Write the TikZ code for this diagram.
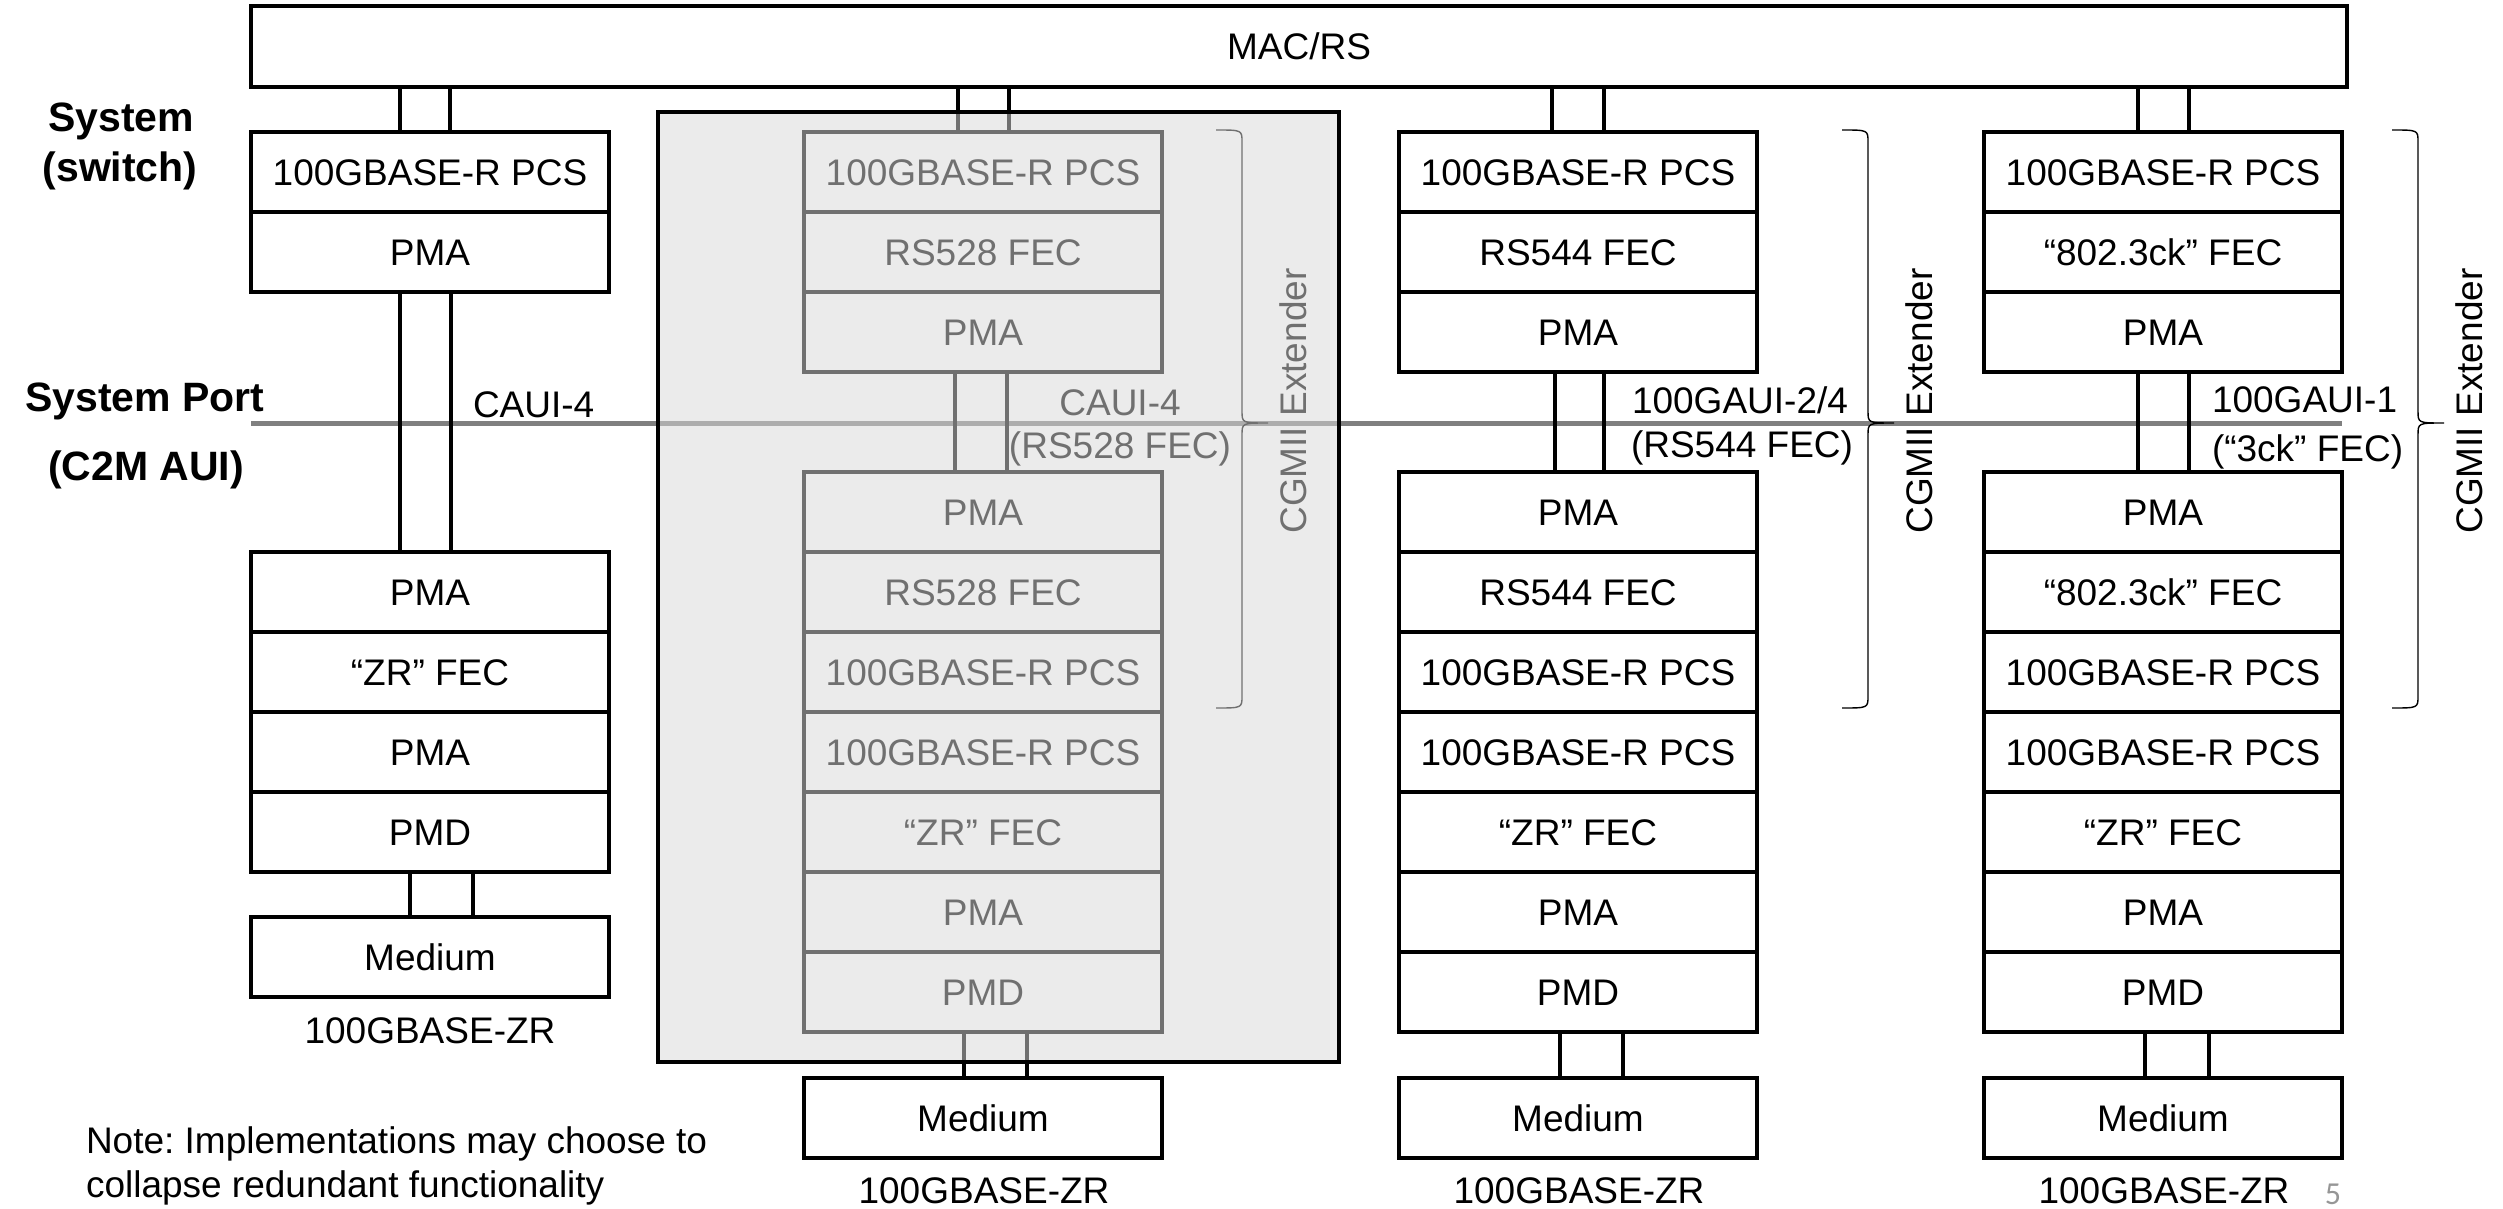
\documentclass[tikz,border=0pt]{standalone}
\usepackage{fontspec}
\setmainfont{Liberation Sans}
\newfontfamily\pgnumfont{Carlito}
\frenchspacing
\definecolor{ovl}{RGB}{216,216,216}
\definecolor{portgray}{RGB}{128,128,128}
\definecolor{pgnum}{RGB}{150,150,150}
\newcommand\cnx[3]{\draw[conn] (#1,0 |- #2.south) -- (#1,0 |- #3.north);}
\begin{document}
\begin{tikzpicture}[x=1pt,y=-1pt,
  every node/.style={font=\fontsize{37}{44}\selectfont, inner sep=0pt, outer sep=0pt},
  layer/.style={draw, line width=3.3pt, minimum width=358pt, minimum height=80pt, anchor=north west, text height=27pt, text depth=0pt},
  conn/.style={line width=3.3pt},
  lbl/.style={anchor=base},
  lbll/.style={anchor=base west},
  bold/.style={font=\fontsize{41}{48}\selectfont\bfseries, anchor=base},
  brc/.style={line width=1.4pt},
  port/.style={line width=5pt, draw=portgray},
]
\useasboundingbox (0,0) rectangle (2503,1209);

% MAC
\node[draw, line width=3.3pt, minimum width=2096pt, minimum height=81pt, anchor=north west] (mac) at (251,6) {MAC/RS};

% system port line
\coordinate (pl) at (251,423);
\coordinate (pr) at (2342,423);
\draw[port] (pl) -- (pr);

% stacks
\foreach \t [count=\i from 0] in {100GBASE-R PCS, PMA}
  \node[layer] (c1u\i) at (251,132+80*\i) {\t};
\foreach \t [count=\i from 0] in {PMA, “ZR” FEC, PMA, PMD}
  \node[layer] (c1l\i) at (251,552+80*\i) {\t};

\foreach \t [count=\i from 0] in {100GBASE-R PCS, RS528 FEC, PMA}
  \node[layer] (c2u\i) at (804,132+80*\i) {\t};
\foreach \t [count=\i from 0] in {PMA, RS528 FEC, 100GBASE-R PCS, 100GBASE-R PCS, “ZR” FEC, PMA, PMD}
  \node[layer] (c2l\i) at (804,472+80*\i) {\t};

\foreach \t [count=\i from 0] in {100GBASE-R PCS, RS544 FEC, PMA}
  \node[layer] (c3u\i) at (1399,132+80*\i) {\t};
\foreach \t [count=\i from 0] in {PMA, RS544 FEC, 100GBASE-R PCS, 100GBASE-R PCS, “ZR” FEC, PMA, PMD}
  \node[layer] (c3l\i) at (1399,472+80*\i) {\t};

\foreach \t [count=\i from 0] in {100GBASE-R PCS, “802.3ck” FEC, PMA}
  \node[layer] (c4u\i) at (1984,132+80*\i) {\t};
\foreach \t [count=\i from 0] in {PMA, “802.3ck” FEC, 100GBASE-R PCS, 100GBASE-R PCS, “ZR” FEC, PMA, PMD}
  \node[layer] (c4l\i) at (1984,472+80*\i) {\t};

% media
\node[layer] (m1) at (251,917) {Medium};
\node[layer] (m2) at (804,1078) {Medium};
\node[layer] (m3) at (1399,1078) {Medium};
\node[layer] (m4) at (1984,1078) {Medium};

% connectors
\cnx{400}{mac}{c1u0} \cnx{450}{mac}{c1u0}
\cnx{400}{c1u1}{c1l0} \cnx{451}{c1u1}{c1l0}
\cnx{410}{c1l3}{m1} \cnx{473}{c1l3}{m1}
\cnx{958}{mac}{c2u0} \cnx{1009}{mac}{c2u0}
\cnx{955}{c2u2}{c2l0} \cnx{1007}{c2u2}{c2l0}
\cnx{964}{c2l6}{m2} \cnx{1027}{c2l6}{m2}
\cnx{1552}{mac}{c3u0} \cnx{1604}{mac}{c3u0}
\cnx{1555}{c3u2}{c3l0} \cnx{1604}{c3u2}{c3l0}
\cnx{1560}{c3l6}{m3} \cnx{1623}{c3l6}{m3}
\cnx{2138}{mac}{c4u0} \cnx{2189}{mac}{c4u0}
\cnx{2138}{c4u2}{c4l0} \cnx{2189}{c4u2}{c4l0}
\cnx{2145}{c4l6}{m4} \cnx{2209}{c4l6}{m4}

% interface labels
\node[lbll] (a1) at (473,417) {CAUI-4};
\node[lbl] (a2) at (1120,415) {CAUI-4};
\node[lbl] (a2b) at (1120,458) {(RS528 FEC)};
\node[lbll] (a3) at (1632,413) {100GAUI-2/4};
\node[lbll] (a3b) at (1631,457) {(RS544 FEC)};
\node[lbll] (a4) at (2212,412) {100GAUI-1};
\node[lbll] (a4b) at (2212,461) {(“3ck” FEC)};

% braces and CGMII labels
\foreach \bx/\nm in {1242/g2, 1868/g3, 2418/g4}{
  \begin{scope}[shift={(\bx,423)}]
    \draw[brc] (-26,-293) .. controls (0,-293) .. (0,-281) -- (0,-12)
      .. controls (0,0) .. (26,0) .. controls (0,0) .. (0,12) -- (0,273)
      .. controls (0,285) .. (-26,285);
    \node[rotate=90] (\nm) at (51,-22) {CGMII Extender};
  \end{scope}
}

% grey extender box overlay
\node[draw, line width=3.3pt, fill=ovl, fill opacity=0.52, minimum width=681pt, minimum height=950pt, anchor=north west] (ext) at (658,112) {};

% left labels
\node[bold] (s1) at (121,132) {System};
\node[bold] (s2) at (120,182) {(switch)};
\node[bold] (p1) at (145,411) {System Port};
\node[bold] (p2) at (146,480) {(C2M AUI)};

% PHY names
\node[lbl] (z1) at (430,1043) {100GBASE-ZR};
\node[lbl] (z2) at (984,1203) {100GBASE-ZR};
\node[lbl] (z3) at (1579,1203) {100GBASE-ZR};
\node[lbl] (z4) at (2164,1203) {100GBASE-ZR};

% note
\node[anchor=base west] (n1) at (86,1153) {Note: Implementations may choose to};
\node[anchor=base west] (n2) at (86,1197) {collapse redundant functionality};

\node[font=\pgnumfont\fontsize{32}{36}\selectfont, text=pgnum, anchor=base] (pg) at (2333,1204) {5};
\end{tikzpicture}
\end{document}
